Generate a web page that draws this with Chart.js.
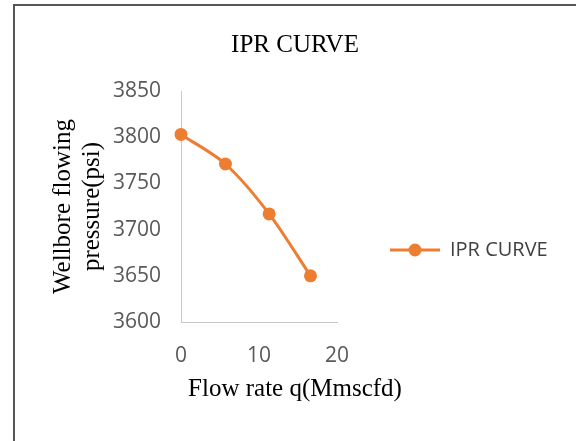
<!DOCTYPE html>
<html>
<head>
<meta charset="utf-8">
<script src="https://cdn.jsdelivr.net/npm/chart.js@4/dist/chart.umd.min.js"></script>
<style>
    html, body { margin: 0; padding: 0; background: #fff; overflow: hidden; width: 576px; height: 441px; }
    #wrap { position: absolute; left: 0; top: 0; width: 576px; height: 441px; }
</style>
</head>
<body>
<div id="wrap"><canvas id="ipr" width="576" height="441"></canvas></div>
<script>
// IPR curve: wellbore flowing pressure vs gas flow rate
var flowRate = [0, 5.7, 11.3, 16.6];          // q, Mmscfd
var pwf = [3803, 3771, 3717, 3650];           // psi
var xTicks = [0, 10, 20];
var yTicks = [3600, 3650, 3700, 3750, 3800, 3850];

var ORANGE = '#ED7D31';
var SERIF = '"Liberation Serif", "Times New Roman", serif';
var SANS = '"Open Sans", sans-serif';
var LEGEND_SIZE = 20;

// chart frame (left and top edges show in the picture)
var frame = {
    id: 'frame',
    beforeDraw: function (chart) {
        var ctx = chart.ctx;
        ctx.save();
        ctx.fillStyle = '#575757';
        ctx.fillRect(13, 4, 563, 2);
        ctx.fillRect(13, 4, 2, 437);
        ctx.restore();
    }
};

// line + dot marker for the legend, like the office chart
function legendMark() {
    var c = document.createElement('canvas');
    c.width = 50; c.height = 16;
    var g = c.getContext('2d');
    g.strokeStyle = ORANGE; g.lineWidth = 3;
    g.beginPath(); g.moveTo(0, 8); g.lineTo(50, 8); g.stroke();
    g.fillStyle = ORANGE;
    g.beginPath(); g.arc(25, 8, 6.5, 0, Math.PI * 2); g.fill();
    return c;
}

// legend sits right of the plot; work out side paddings so the plot ends at the right place
var m = document.createElement('canvas').getContext('2d');
m.font = LEGEND_SIZE + 'px ' + SANS;
var tw = m.measureText('IPR CURVE').width;
var legendPad = 53;
var legendW = legendPad + 50 + LEGEND_SIZE / 2 + tw + 10;
var padRight = Math.max(0, 576 - 337 - legendW);
var padLeft = 14 + padRight;

function plain(v) { return String(v); }

new Chart(document.getElementById('ipr'), {
    type: 'line',
    data: {
        datasets: [{
            label: 'IPR CURVE',
            data: flowRate.map(function (q, i) { return { x: q, y: pwf[i] }; }),
            borderColor: ORANGE,
            backgroundColor: ORANGE,
            borderWidth: 3,
            pointRadius: 6.5,
            pointHoverRadius: 6.5,
            pointBorderWidth: 0,
            pointBackgroundColor: ORANGE,
            tension: 0.3,
            clip: false
        }]
    },
    plugins: [frame],
    options: {
        responsive: false,
        animation: false,
        layout: { padding: { left: padLeft, right: padRight, top: 0, bottom: 0 } },
        plugins: {
            title: {
                display: true, text: 'IPR CURVE', color: '#000',
                font: { family: SERIF, size: 25, weight: 'normal', lineHeight: 1.2 },
                padding: { top: 30, bottom: 31 }
            },
            subtitle: {
                display: true, position: 'bottom', text: 'Flow rate q(Mmscfd)', color: '#000',
                font: { family: SERIF, size: 25, weight: 'normal', lineHeight: 1.2 },
                padding: { top: 7, bottom: 37 }
            },
            legend: {
                position: 'right',
                maxWidth: 400,
                title: { display: true, text: '', font: { size: 10 }, padding: { top: 47, bottom: 0 } },
                labels: {
                    usePointStyle: true,
                    pointStyle: legendMark(),
                    pointStyleWidth: 50,
                    padding: legendPad,
                    color: '#404040',
                    font: { family: SANS, size: LEGEND_SIZE }
                }
            },
            tooltip: { enabled: false }
        },
        scales: {
            x: {
                type: 'linear',
                min: xTicks[0], max: xTicks[xTicks.length - 1],
                afterBuildTicks: function (s) { s.ticks = xTicks.map(function (v) { return { value: v }; }); },
                afterFit: function (s) { s.height = 45; },
                grid: { drawOnChartArea: false, color: 'transparent', tickLength: 21 },
                border: { display: true, color: '#c9c9c9', width: 1 },
                ticks: { padding: 0, color: '#595959', font: { family: SANS, size: 21 }, callback: plain }
            },
            y: {
                type: 'linear',
                min: yTicks[0], max: yTicks[yTicks.length - 1],
                afterBuildTicks: function (s) { s.ticks = yTicks.map(function (v) { return { value: v }; }); },
                afterFit: function (s) { s.width = 181 - padLeft; },
                grid: { drawOnChartArea: false, color: 'transparent', tickLength: 20 },
                border: { display: true, color: '#c9c9c9', width: 1 },
                ticks: { padding: 0, color: '#595959', font: { family: SANS, size: 21 }, callback: plain },
                title: {
                    display: true, color: '#000',
                    text: ['Wellbore flowing', 'pressure(psi)'],
                    font: { family: SERIF, size: 25, weight: 'normal', lineHeight: 1.16 },
                    padding: { top: Math.max(0, 48.5 - padLeft), bottom: 0 }
                }
            }
        }
    }
});
</script>
</body>
</html>
